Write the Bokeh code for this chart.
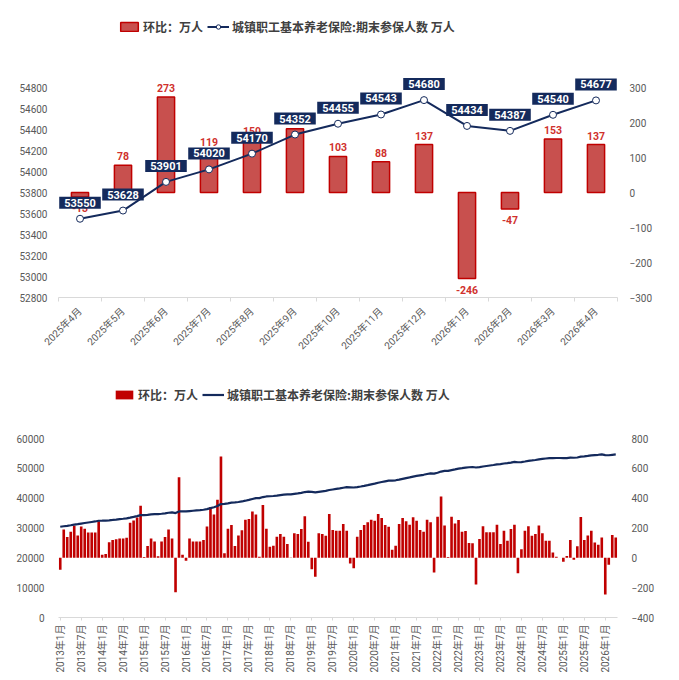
import math
from bokeh.plotting import figure
from bokeh.models import Range1d, LinearAxis, FixedTicker, Legend, LegendItem
from bokeh.layouts import column
from bokeh.embed import file_html
from bokeh.resources import INLINE
from bokeh.core.properties import value

# ---------------- data: top chart (recent 13 months) ----------------
recent_months = ["2025年4月", "2025年5月", "2025年6月", "2025年7月", "2025年8月", "2025年9月",
                 "2025年10月", "2025年11月", "2025年12月", "2026年1月", "2026年2月", "2026年3月", "2026年4月"]
recent_insured = [53550, 53628, 53901, 54020, 54170, 54352, 54455, 54543, 54680, 54434, 54387, 54540, 54677]
recent_mom = [-13, 78, 273, 119, 150, 182, 103, 88, 137, -246, -47, 153, 137]

# ---------------- data: bottom chart (2013年1月 - 2026年4月) ----------------
mom_2013 = [-80, 190, 140, 175, 215, 150, 210, 195, 170, 170, 170, 245]
mom_2014 = [20, 25, 105, 120, 125, 130, 130, 135, 235, 250, 270, 350]
mom_2015 = [5, 80, 130, 110, 10, 110, 140, 190, 130, -230, 540, 20]
mom_2016 = [-20, 130, 110, 110, 110, 120, 210, 340, 290, 390, 680, 30]
mom_2017 = [195, 220, 80, 150, 185, 255, 260, 310, 290, 7, 355, 195]
mom_2018 = [74, 81, 141, 160, 141, 92, 2, 164, 160, 193, 279, 108]
mom_2019 = [-76, -126, 164, 160, 148, 294, 186, 182, 182, 227, 182, -38]
mom_2020 = [-70, 141, 186, 220, 238, 256, 249, 294, 267, 220, 209, 54]
mom_2021 = [81, 227, 267, 245, 222, 272, 249, 186, 175, 256, 238, -99]
mom_2022 = [276, 411, 216, 5, 276, 231, 254, 175, 180, 99, 97, -178]
mom_2023 = [126, 211, 171, 171, 171, 222, 92, 182, 115, 193, 222, -103]
mom_2024 = [58, 182, 211, 148, 160, 216, 164, 115, 115, 36, 7, 0]
mom_2025 = [-27, 13, 119, -13, 78, 273, 119, 150, 182, 103, 88, 137]
mom_2026 = [-246, -47, 153, 137]

ins_2013 = [30406, 30596, 30736, 30911, 31126, 31276, 31486, 31681, 31851, 32021, 32191, 32436]
ins_2014 = [32456, 32481, 32586, 32706, 32831, 32961, 33091, 33226, 33461, 33711, 33981, 34331]
ins_2015 = [34336, 34416, 34546, 34656, 34666, 34776, 34916, 35106, 35236, 35006, 35546, 35566]
ins_2016 = [35546, 35676, 35786, 35896, 36006, 36126, 36336, 36676, 36966, 37356, 38036, 38066]
ins_2017 = [38261, 38481, 38561, 38711, 38896, 39151, 39411, 39721, 40011, 40018, 40373, 40568]
ins_2018 = [40642, 40723, 40864, 41024, 41165, 41257, 41259, 41423, 41583, 41776, 42055, 42163]
ins_2019 = [42087, 41961, 42125, 42285, 42433, 42727, 42913, 43095, 43277, 43504, 43686, 43648]
ins_2020 = [43578, 43719, 43905, 44125, 44363, 44619, 44868, 45162, 45429, 45649, 45858, 45912]
ins_2021 = [45993, 46220, 46487, 46732, 46954, 47226, 47475, 47661, 47836, 48092, 48330, 48231]
ins_2022 = [48507, 48918, 49134, 49139, 49415, 49646, 49900, 50075, 50255, 50354, 50451, 50273]
ins_2023 = [50399, 50610, 50781, 50952, 51123, 51345, 51437, 51619, 51734, 51927, 52149, 52046]
ins_2024 = [52104, 52286, 52497, 52645, 52805, 53021, 53185, 53300, 53415, 53451, 53458, 53458]
ins_2025 = [53431, 53444, 53563, 53550, 53628, 53901, 54020, 54170, 54352, 54455, 54543, 54680]
ins_2026 = [54434, 54387, 54540, 54677]

all_mom = (mom_2013 + mom_2014 + mom_2015 + mom_2016 + mom_2017 + mom_2018 + mom_2019 +
           mom_2020 + mom_2021 + mom_2022 + mom_2023 + mom_2024 + mom_2025 + mom_2026)
all_ins = (ins_2013 + ins_2014 + ins_2015 + ins_2016 + ins_2017 + ins_2018 + ins_2019 +
           ins_2020 + ins_2021 + ins_2022 + ins_2023 + ins_2024 + ins_2025 + ins_2026)
all_months = [f"{y}年{m}月" for y in range(2013, 2027) for m in range(1, 13)][:len(all_mom)]

top_left_ticks = [52800, 53000, 53200, 53400, 53600, 53800, 54000, 54200, 54400, 54600, 54800]
top_right_ticks = [-300, -200, -100, 0, 100, 200, 300]
bot_left_ticks = [0, 10000, 20000, 30000, 40000, 50000, 60000]
bot_right_ticks = [-400, -200, 0, 200, 400, 600, 800]

LEG1 = "环比：万人"
LEG2 = "城镇职工基本养老保险:期末参保人数 万人"

# ---------------- style ----------------
NAVY = "#142a5c"
RED_FILL = "#c8504e"
RED_LINE = "#c00000"
RED_TXT = "#d0312d"
GRAY = "#595959"
AXIS_GRAY = "#d9d9d9"
TICK_FONT = "Roboto, 'Noto Sans CJK SC', sans-serif"
CJK_FONT = "'Noto Sans CJK SC', sans-serif"
W = 679


def style_value_axis(ax, standoff):
    ax.axis_line_color = None
    ax.major_tick_line_color = None
    ax.minor_tick_line_color = None
    ax.major_label_text_color = GRAY
    ax.major_label_text_font = TICK_FONT
    ax.major_label_text_font_size = "10px"
    ax.major_label_standoff = standoff


def base_fig(height, xr, yr, left, right, top, bottom):
    p = figure(width=W, height=height, x_range=xr, y_range=yr,
               output_backend="svg", toolbar_location=None,
               min_border_left=left, min_border_right=right,
               min_border_top=top, min_border_bottom=bottom)
    p.xgrid.visible = False
    p.ygrid.visible = False
    p.outline_line_color = None
    p.background_fill_color = "white"
    p.border_fill_color = "white"
    return p


def extend_top(lo, hi, axis_px, extra_px):
    # range top so that [lo, hi] keeps axis_px pixels and extra_px of headroom is added above
    return hi + (hi - lo) * extra_px / axis_px


# ================= top chart =================
H1 = 368
n1 = len(recent_months)
x1 = list(range(n1))
head1 = 79
p1 = base_fig(H1, Range1d(-0.5, n1 - 0.5),
              Range1d(52800, extend_top(52800, 54800, 210, head1)),
              55, W - 619, 8, H1 - 297)
p1.extra_y_ranges = {"mom": Range1d(-300, extend_top(-300, 300, 210, head1))}

p1.yaxis.ticker = FixedTicker(ticks=top_left_ticks)
style_value_axis(p1.yaxis[0], 5)
ax_r1 = LinearAxis(y_range_name="mom", ticker=FixedTicker(ticks=top_right_ticks))
style_value_axis(ax_r1, 6)
p1.add_layout(ax_r1, "right")

xa1 = p1.xaxis[0]
xa1.ticker = FixedTicker(ticks=x1, minor_ticks=[i - 0.5 for i in range(n1 + 1)])
xa1.major_label_overrides = {i: recent_months[i] for i in x1}
xa1.major_label_orientation = math.pi / 4
xa1.axis_line_color = AXIS_GRAY
xa1.major_tick_line_color = None
xa1.minor_tick_line_color = AXIS_GRAY
xa1.minor_tick_out = 4
xa1.minor_tick_in = 0
xa1.major_label_text_color = GRAY
xa1.major_label_text_font = TICK_FONT
xa1.major_label_text_font_size = "10px"
xa1.major_label_standoff = 6

bars1 = p1.vbar(x=x1, top=recent_mom, bottom=0, width=0.4, y_range_name="mom",
                fill_color=RED_FILL, line_color=RED_LINE, line_width=1.5)

pos_x = [x for x, v in zip(x1, recent_mom) if v >= 0]
pos_v = [v for v in recent_mom if v >= 0]
neg_x = [x for x, v in zip(x1, recent_mom) if v < 0]
neg_v = [v for v in recent_mom if v < 0]
p1.text(x=pos_x, y=pos_v, text=[str(v) for v in pos_v], y_range_name="mom",
        text_color=RED_TXT, text_font_size="10.5px", text_font_style="bold",
        text_font=value("Roboto"), text_align="center", text_baseline="bottom", y_offset=-5)
p1.text(x=neg_x, y=neg_v, text=[str(v) for v in neg_v], y_range_name="mom",
        text_color=RED_TXT, text_font_size="10.5px", text_font_style="bold",
        text_font=value("Roboto"), text_align="center", text_baseline="top", y_offset=7)

line1 = p1.line(x=x1, y=recent_insured, line_color=NAVY, line_width=2)
pts1 = p1.scatter(x=x1, y=recent_insured, size=7, fill_color="white", line_color=NAVY, line_width=1)
p1.text(x=x1, y=recent_insured, text=[str(v) for v in recent_insured],
        text_color="white", text_font_size="11px", text_font_style="bold", text_font=value("Roboto"),
        text_align="center", text_baseline="middle", y_offset=-16,
        background_fill_color=NAVY, padding=(5, 2))

leg1 = Legend(items=[LegendItem(label=LEG1, renderers=[bars1]),
                     LegendItem(label=LEG2, renderers=[line1, pts1])],
              location=(60, 262), orientation="horizontal")

# ================= bottom chart =================
H2 = 680 - H1
n2 = len(all_mom)
x2 = list(range(n2))
head2 = 60
p2 = base_fig(H2, Range1d(-0.5, n2 - 0.5),
              Range1d(0, extend_top(0, 60000, 179, head2)),
              58, W - 617, 10, H1 + H2 - 617)
p2.extra_y_ranges = {"mom": Range1d(-400, extend_top(-400, 800, 179, head2))}
p2.styles = {"outline": "1.5px solid #e4e4e4", "outline-offset": "-3px"}

p2.yaxis.ticker = FixedTicker(ticks=bot_left_ticks)
style_value_axis(p2.yaxis[0], 8)
ax_r2 = LinearAxis(y_range_name="mom", ticker=FixedTicker(ticks=bot_right_ticks))
style_value_axis(ax_r2, 8)
p2.add_layout(ax_r2, "right")

label_idx = [i for i in x2 if i % 6 == 0]
xa2 = p2.xaxis[0]
xa2.ticker = FixedTicker(ticks=label_idx)
xa2.major_label_overrides = {i: all_months[i] for i in label_idx}
xa2.major_label_orientation = math.pi / 2
xa2.axis_line_color = AXIS_GRAY
xa2.major_tick_line_color = AXIS_GRAY
xa2.major_tick_out = 3
xa2.major_tick_in = 0
xa2.minor_tick_line_color = None
xa2.major_label_text_color = GRAY
xa2.major_label_text_font = TICK_FONT
xa2.major_label_text_font_size = "10px"
xa2.major_label_standoff = 4

bars2 = p2.vbar(x=x2, top=all_mom, bottom=0, width=0.75, y_range_name="mom",
                fill_color=RED_LINE, line_color=None)
line2 = p2.line(x=x2, y=all_ins, line_color=NAVY, line_width=2.2)

leg2 = Legend(items=[LegendItem(label=LEG1, renderers=[bars2]),
                     LegendItem(label=LEG2, renderers=[line2])],
              location=(55, 214), orientation="horizontal")

for lg in (leg1, leg2):
    lg.border_line_color = None
    lg.background_fill_alpha = 0
    lg.label_text_font = CJK_FONT
    lg.label_text_font_style = "bold"
    lg.label_text_font_size = "12px"
    lg.label_text_color = "#404040"
    lg.glyph_width = 22
    lg.glyph_height = 11
    lg.label_standoff = 3
    lg.spacing = 4
    lg.padding = 0
    lg.margin = 0

p1.add_layout(leg1, "center")
p2.add_layout(leg2, "center")

layout = column(p1, p2)
with open("out.html", "w") as f:
    f.write(file_html(layout, INLINE))
